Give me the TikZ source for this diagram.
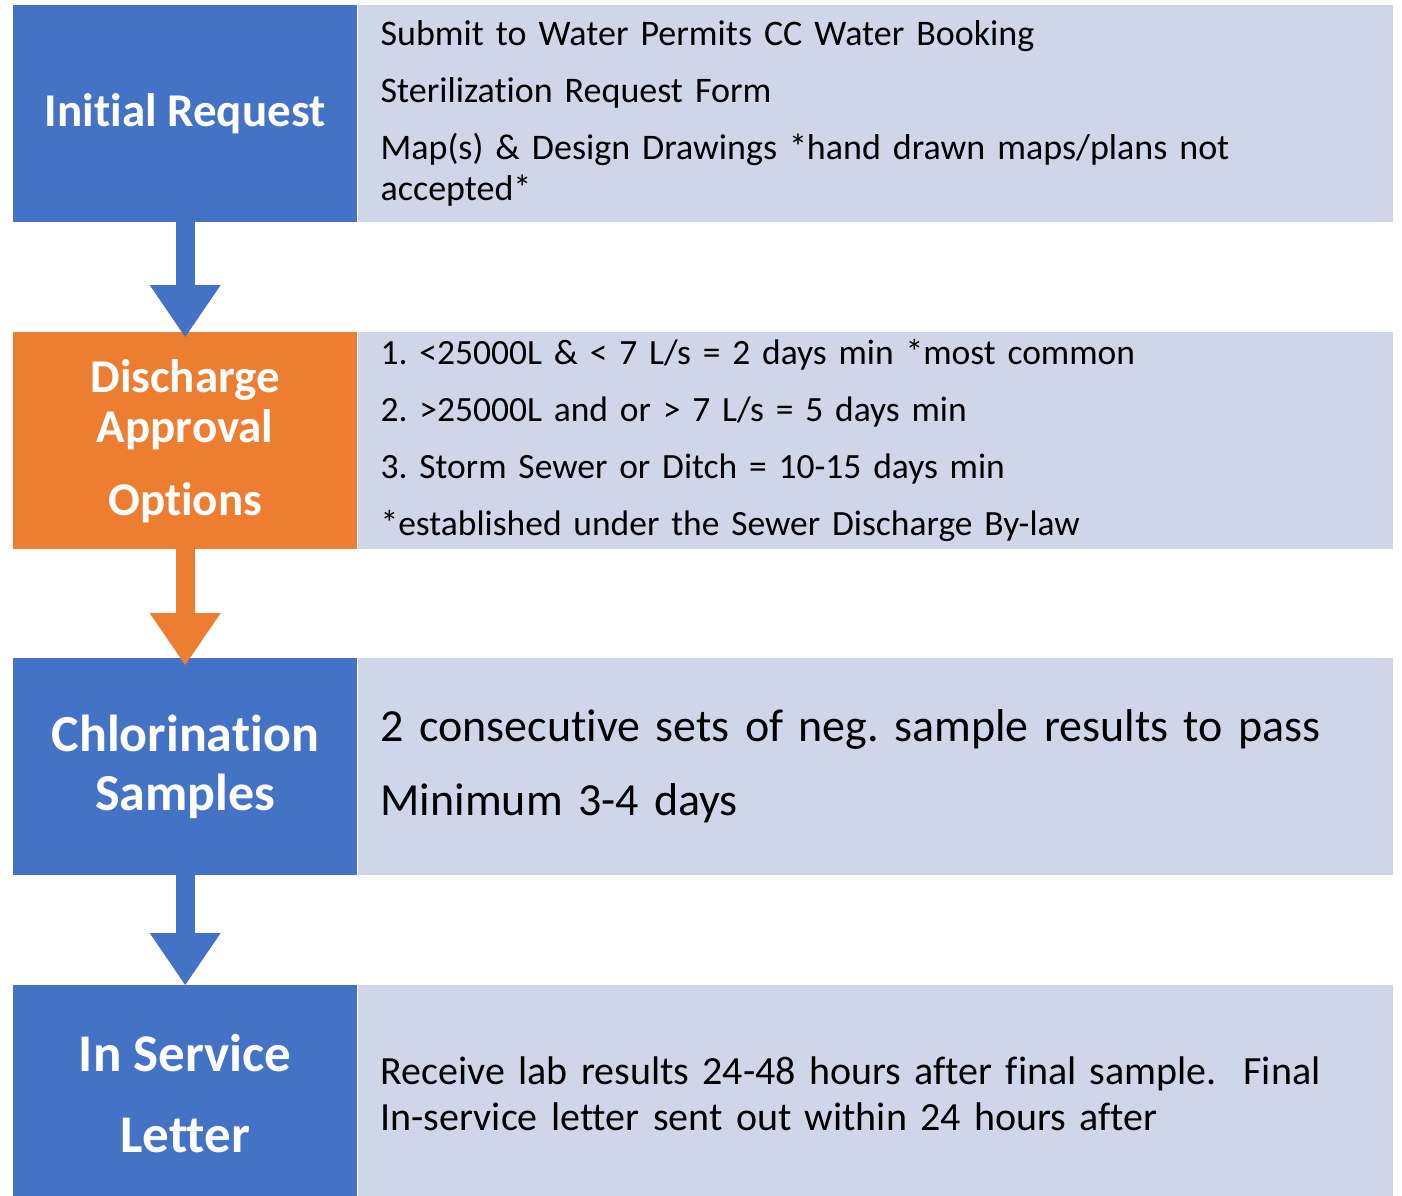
\documentclass[tikz,border=0pt]{standalone}
\usepackage{fontspec}
\setmainfont[Ligatures=NoCommon]{Carlito}
\usetikzlibrary{arrows.meta,positioning}
\definecolor{blueStep}{RGB}{68,114,196}
\definecolor{orangeStep}{RGB}{237,125,49}
\definecolor{greyInfo}{RGB}{208,214,234}
\frenchspacing

\begin{document}
\begin{tikzpicture}[x=1pt,y=-1pt,
  stepbox/.style={fill=blueStep,text=white,minimum width=344pt,minimum height=217pt,
    inner sep=0pt,align=center,anchor=north west},
  infobox/.style={fill=greyInfo,minimum width=1035pt,minimum height=217pt,
    inner xsep=23pt,inner ysep=0pt,text width=989pt,align=left},
  flow/.style={line width=19pt,-{Triangle[length=52pt,width=71pt,line width=0pt]}}]
  \useasboundingbox (0,0) rectangle (1402,1195);

  % Initial Request
  \node[stepbox,font=\bfseries\fontsize{47}{50}\selectfont] (req) at (13,5) {Initial Request};
  \node[infobox,right=0pt of req,font=\fontsize{36}{41}\selectfont] (reqInfo)
    {Submit to Water Permits CC Water Booking\\[16pt]
     Sterilization Request Form\\[16pt]
     Map(s) \& Design Drawings *hand drawn maps/plans not\\
     accepted*};

  % Discharge Approval
  \node[stepbox,fill=orangeStep,font=\bfseries\fontsize{47}{50}\selectfont] (appr) at (13,332)
    {Discharge\\Approval\\[23pt]Options};
  \node[infobox,right=0pt of appr,font=\fontsize{35.5}{41}\selectfont] (apprInfo)
    {1. <25000L \& < 7 L/s = 2 days min *most common\\[16pt]
     2. >25000L and or > 7 L/s = 5 days min\\[16pt]
     3. Storm Sewer or Ditch = 10-15 days min\\[16pt]
     *established under the Sewer Discharge By-law};

  % Chlorination Samples
  \node[stepbox,font=\bfseries\fontsize{52}{59}\selectfont] (chlor) at (13,658)
    {Chlorination\\Samples};
  \node[infobox,right=0pt of chlor,font=\fontsize{46}{74}\selectfont] (chlorInfo)
    {2 consecutive sets of neg. sample results to pass\\
     Minimum 3-4 days};

  % In Service Letter
  \node[stepbox,font=\bfseries\fontsize{53}{81}\selectfont] (letter) at (13,985)
    {In Service\\Letter};
  \node[infobox,right=0pt of letter,font=\fontsize{40}{46}\selectfont] (letterInfo)
    {Receive lab results 24-48 hours after final sample.\ \ Final\\
     In-service letter sent out within 24 hours after};

  % Fleches
  \draw[flow,blueStep] (req.south) -- ([yshift=-5pt]appr.north);
  \draw[flow,orangeStep] (appr.south) -- ([yshift=-7pt]chlor.north);
  \draw[flow,blueStep] (chlor.south) -- (letter.north);
\end{tikzpicture}
\end{document}
